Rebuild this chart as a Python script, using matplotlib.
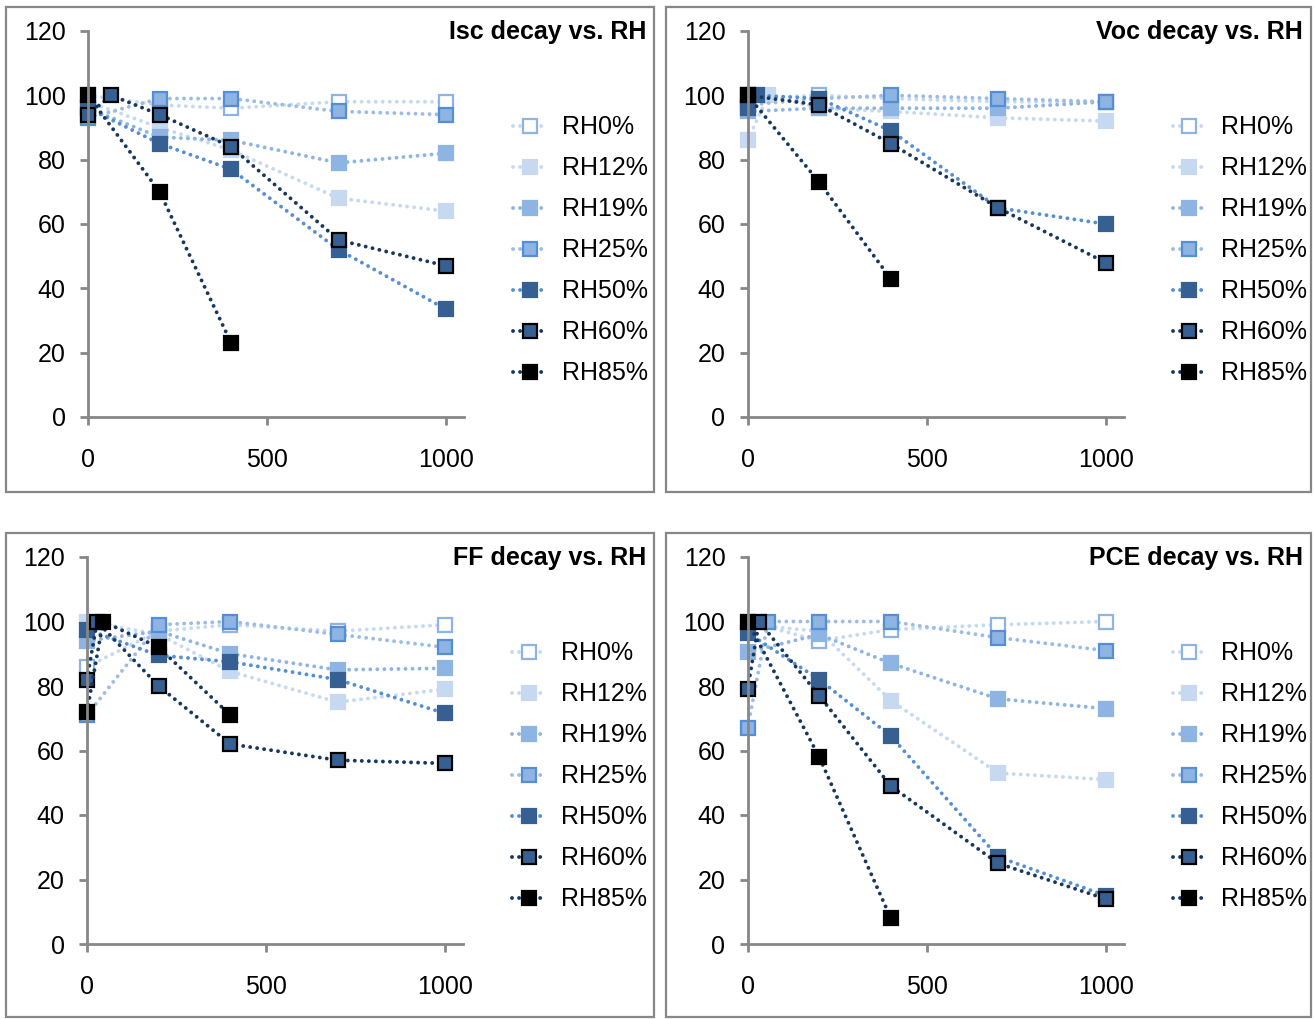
"""RH 衰减四联图：Isc / Voc / FF / PCE vs. 时间."""

import matplotlib
matplotlib.use("Agg")
import matplotlib.pyplot as plt
from matplotlib.patches import Rectangle

plt.rcParams["font.family"] = ["Liberation Sans", "DejaVu Sans"]

W, H = 1315, 1019

LABELS = ["RH0%", "RH12%", "RH19%", "RH25%", "RH50%", "RH60%", "RH85%"]
T5 = [0, 200, 400, 700, 1000]

# ---- data ----
ISC_X = [T5, T5, T5, T5, T5, [0, 65, 200, 400, 700, 1000], [0, 200, 400]]
ISC_Y = [
    [100, 97, 96, 98, 98],
    [98, 90, 83, 68, 64],
    [96, 87, 86, 79, 82],
    [93, 99, 99, 95, 94],
    [96, 85, 77, 52, 33.5],
    [94, 100, 94, 84, 55, 47],
    [100, 70, 23],
]

VOC_X = [T5, [0, 58, 200, 400, 700, 1000], T5, T5, [0, 26, 200, 400, 700, 1000], T5, [0, 200, 400]]
VOC_Y = [
    [99, 100, 99, 98, 98],
    [86, 100, 96, 95, 93, 92],
    [95, 96, 96, 96, 98],
    [97, 99, 100, 99, 98],
    [96, 100, 99, 89, 65, 60],
    [100, 97, 85, 65, 48],
    [100, 73, 43],
]

FF_X = [T5, T5, T5, T5, T5, [0, 28, 200, 400, 700, 1000], [0, 45, 200, 400]]
FF_Y = [
    [86, 97, 99, 97, 99],
    [100, 96, 84.5, 75, 79],
    [94, 97, 90, 85, 85.5],
    [71, 99, 100, 96, 92],
    [97.5, 89.5, 87.5, 82, 71.5],
    [82, 100, 80, 62, 57, 56],
    [72, 100, 92, 71],
]

PCE_X = [T5, T5, T5, [0, 57, 200, 400, 700, 1000], T5, [0, 32, 200, 400, 700, 1000], [0, 200, 400]]
PCE_Y = [
    [100, 94, 97.5, 99, 100],
    [99, 97, 75.5, 53, 51],
    [90.5, 96, 87, 76, 73],
    [67, 100, 100, 100, 95, 91],
    [96.5, 82, 64.5, 27, 15],
    [79, 100, 77, 49, 25, 14],
    [100, 58, 8],
]

# 线色 / 填充 / 边框
LINE_C = ["#C5D9F1", "#C6D9F1", "#8DB4E2", "#9DBCE4", "#558ED5", "#17375E", "#17375E"]
FACE_C = ["white", "#C6D9F1", "#8DB4E2", "#8DB4E2", "#376092", "#376092", "black"]
EDGE_C = ["#8DB4E2", "#C6D9F1", "#8DB4E2", "#558ED5", "#376092", "black", "black"]

GRAY = "#878787"
FS = 18


def panel(fig, left_px, top_px, bot_px, xs, ys, title, frame):
    width_px = 1050 * 0.358
    ax = fig.add_axes([left_px / W, 1 - bot_px / H, width_px / W, (bot_px - top_px) / H])
    for i in range(len(LABELS)):
        ax.plot(xs[i], ys[i], ls=(0, (0.01, 1.8)), lw=2.8, color=LINE_C[i],
                dash_capstyle="round", marker="s", ms=9.5, mfc=FACE_C[i],
                mec=EDGE_C[i], mew=1.6, clip_on=False, label=LABELS[i])
    ax.set_xlim(0, 1050)
    ax.set_ylim(0, 120)
    ax.set_xticks([0, 500, 1000])
    ax.set_yticks(range(0, 121, 20))
    for s in ["top", "right"]:
        ax.spines[s].set_visible(False)
    for s in ["left", "bottom"]:
        ax.spines[s].set_color(GRAY)
        ax.spines[s].set_linewidth(2)
    ax.tick_params(axis="both", direction="out", length=6, width=2, color=GRAY,
                   labelsize=FS)
    ax.tick_params(axis="y", pad=10)
    ax.tick_params(axis="x", pad=16)

    # 外框
    x0, y0, x1, y1 = frame
    fig.patches.append(Rectangle((x0 / W, 1 - y1 / H), (x1 - x0) / W, (y1 - y0) / H,
                                 transform=fig.transFigure, fill=False,
                                 edgecolor=GRAY, lw=1.6))
    fig.text((x1 - 8) / W, 1 - (y0 + 25) / H, title, ha="right", va="center",
             fontsize=18, fontweight="bold")

    leg_y = top_px + 96 + 3 * 41.1
    ax.legend(loc="center left", bbox_to_anchor=((left_px + 425) / W, 1 - leg_y / H),
              bbox_transform=fig.transFigure, frameon=False, fontsize=FS,
              handlelength=1.35, handletextpad=0.6, labelspacing=0.68,
              borderpad=0, borderaxespad=0, numpoints=1)
    return ax


fig = plt.figure(figsize=(W / 100, H / 100), dpi=100)

panel(fig, 88, 31, 417, ISC_X, ISC_Y, "Isc decay vs. RH", (6, 7, 654, 492))
panel(fig, 747.6, 31, 417, VOC_X, VOC_Y, "Voc decay vs. RH", (666, 7, 1311, 492))
panel(fig, 87, 557, 944, FF_X, FF_Y, "FF decay vs. RH", (6, 533, 654, 1017))
panel(fig, 747.6, 557, 944, PCE_X, PCE_Y, "PCE decay vs. RH", (666, 533, 1311, 1017))

fig.savefig("out.png", dpi=100, facecolor="white")
